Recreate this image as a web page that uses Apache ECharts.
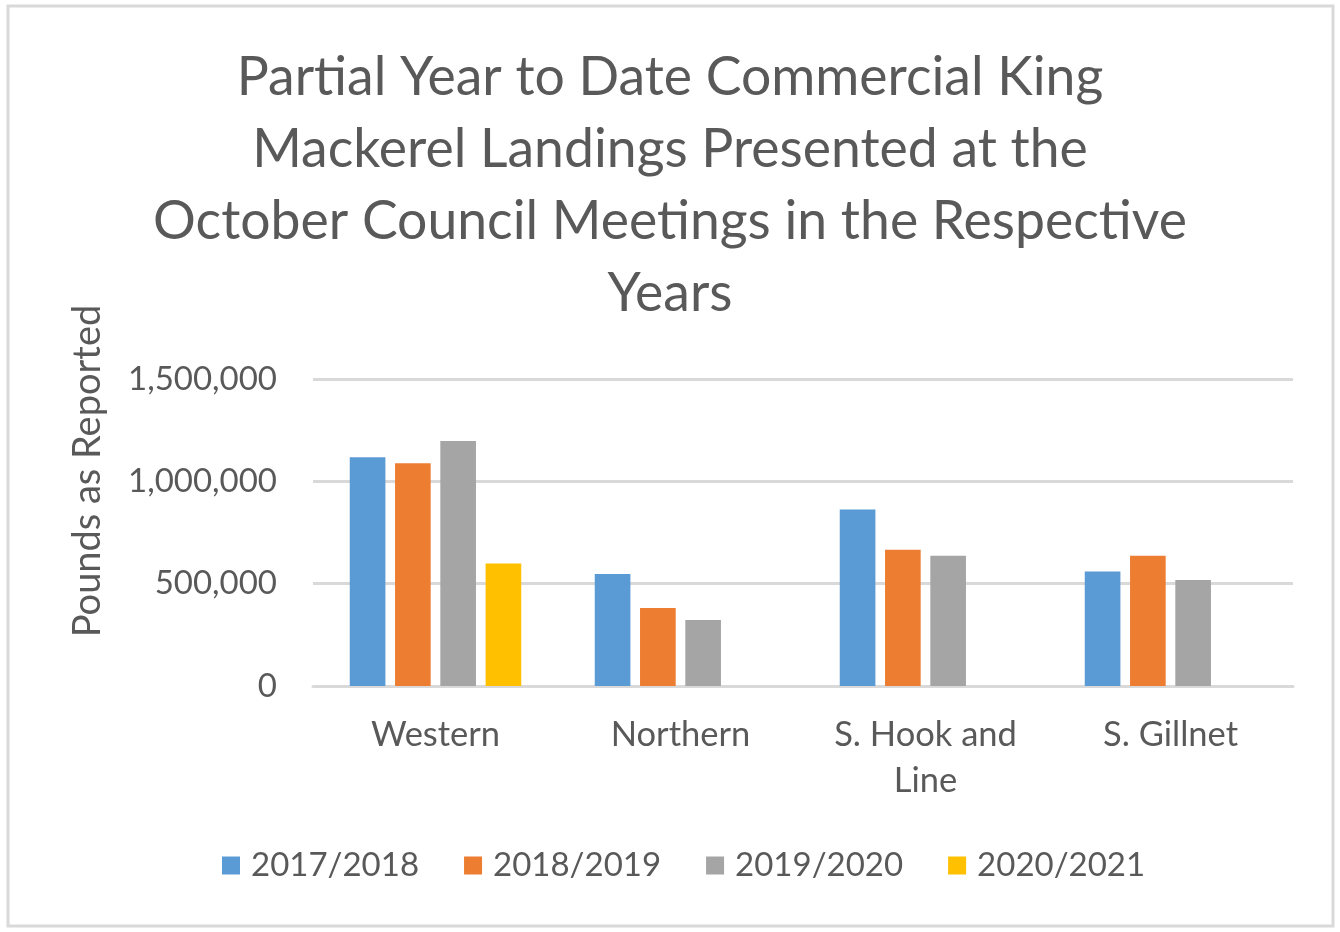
<!DOCTYPE html>
<html>
<head>
<meta charset="utf-8">
<title>King Mackerel Landings</title>
<script src="https://cdn.jsdelivr.net/npm/echarts@6/dist/echarts.min.js"></script>
<style>
    html, body { margin: 0; padding: 0; background: #fff; }
    #main { width: 1340px; height: 932px; }
</style>
</head>
<body>
<div id="main"></div>
<script>
// 数据
var categories = ['Western', 'Northern', 'S. Hook and\nLine', 'S. Gillnet'];
var seasons = ['2017/2018', '2018/2019', '2019/2020', '2020/2021'];
var v2017 = [1118000, 547000, 862000, 559000];
var v2018 = [1088000, 381000, 666000, 637000];
var v2019 = [1197000, 322000, 637000, 518000];
var v2020 = [598000, null, null, null];
var colors = ['#5B9BD5', '#ED7D31', '#A5A5A5', '#FFC000'];

var textColor = '#595959';
var fontName = 'Lato';

var myChart = echarts.init(document.getElementById('main'));

var seriesData = [v2017, v2018, v2019, v2020];
var series = seasons.map(function (name, i) {
    return {
        name: name,
        type: 'bar',
        data: seriesData[i],
        itemStyle: { color: colors[i] },
        barGap: '27%',
        barCategoryGap: '30%'
    };
});

myChart.setOption({
    backgroundColor: '#fff',
    color: colors,
    textStyle: { fontFamily: fontName },
    title: {
        text: 'Partial Year to Date Commercial King\nMackerel Landings Presented at the\nOctober Council Meetings in the Respective\nYears',
        left: 'center',
        top: 37,
        textStyle: {
            fontFamily: fontName,
            fontWeight: 'normal',
            fontSize: 53.5,
            lineHeight: 72,
            color: textColor
        }
    },
    legend: {
        data: seasons,
        bottom: 45,
        left: 217,
        icon: 'rect',
        itemWidth: 18,
        itemHeight: 18,
        itemGap: 45,
        textStyle: { fontFamily: fontName, fontSize: 33, color: textColor, padding: [0, 0, 0, 6] }
    },
    grid: {
        left: 313,
        right: 47,
        top: 379,
        bottom: 246
    },
    xAxis: {
        type: 'category',
        data: categories,
        axisTick: { show: false },
        axisLine: { lineStyle: { color: '#d9d9d9', width: 3 } },
        axisLabel: {
            fontFamily: fontName,
            fontSize: 34.5,
            lineHeight: 46,
            color: textColor,
            margin: 26
        }
    },
    yAxis: {
        type: 'value',
        min: 0,
        max: 1500000,
        interval: 500000,
        axisLine: { show: false },
        axisTick: { show: false },
        splitLine: { lineStyle: { color: '#d9d9d9', width: 3 } },
        axisLabel: {
            fontFamily: fontName,
            fontSize: 33,
            color: textColor,
            margin: 36,
            formatter: function (v) {
                return v.toLocaleString('en-US');
            }
        }
    },
    graphic: [
        {
            type: 'rect',
            shape: { x: 8, y: 6, width: 1325, height: 920 },
            style: { fill: 'none', stroke: '#d9d9d9', lineWidth: 3 },
            silent: true
        },
        {
            type: 'text',
            x: 88,
            y: 471,
            rotation: Math.PI / 2,
            style: {
                text: 'Pounds as Reported',
                fontFamily: fontName,
                fontSize: 38,
                fill: textColor,
                align: 'center',
                verticalAlign: 'middle'
            }
        }
    ],
    series: series
});
</script>
</body>
</html>
